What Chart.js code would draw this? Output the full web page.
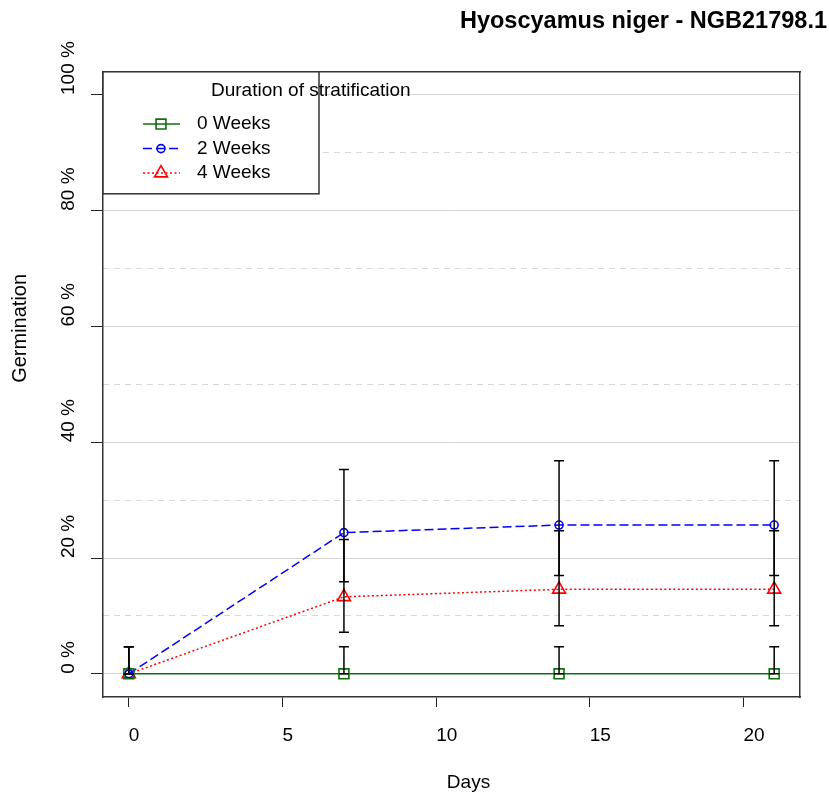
<!DOCTYPE html>
<html>
<head>
<meta charset="utf-8">
<script src="https://cdn.jsdelivr.net/npm/chart.js@4.4.1/dist/chart.umd.min.js"></script>
<style>
  html, body { margin: 0; padding: 0; background: #fff; }
</style>
</head>
<body>
<canvas id="chart" width="829" height="793"></canvas>
<script>
// germination data
const days = [0, 7, 14, 21];
const seriesNames = ["0 Weeks", "2 Weeks", "4 Weeks"];
const week0 = [0, 0, 0, 0];
const week2 = [0, 24.4, 25.7, 25.7];
const week4 = [0, 13.3, 14.6, 14.6];
const week0Low = [0, 0, 0, 0];
const week0High = [4.7, 4.7, 4.7, 4.7];
const week2Low = [0, 15.9, 17.0, 17.0];
const week2High = [4.7, 35.3, 36.8, 36.8];
const week4Low = [0, 7.2, 8.3, 8.3];
const week4High = [4.7, 23.2, 24.7, 24.7];
const xTicks = [0, 5, 10, 15, 20];
const yTicks = [0, 20, 40, 60, 80, 100];
const yMinorTicks = [10, 30, 50, 70, 90];

const FONT = "'Liberation Sans', Arial, Helvetica, sans-serif";
const values = [week0, week2, week4];
const lows = [week0Low, week2Low, week4Low];
const highs = [week0High, week2High, week4High];
const styles = [
  { color: "#0d700d", dash: [], point: "rect", radius: 7 },
  { color: "#0000ff", dash: [9, 4], point: "circle", radius: 4 },
  { color: "#ff0000", dash: [2, 2.5], point: "triangle", radius: 7.5 }
];

const lineSets = values.map((v, k) => ({
  type: "line",
  label: seriesNames[k],
  data: days.map((d, i) => ({ x: d, y: v[i] })),
  xAxisID: "x", yAxisID: "y",
  borderColor: styles[k].color,
  borderWidth: 1.5,
  borderDash: styles[k].dash,
  tension: 0,
  pointStyle: styles[k].point,
  pointRadius: styles[k].radius,
  pointBorderColor: styles[k].color,
  pointBackgroundColor: "rgba(0,0,0,0)",
  pointBorderWidth: 1.6,
  order: 2
}));

// error bars: floating bars for the stems, "line" points for the caps
const barSets = values.map((v, k) => ({
  type: "bar",
  label: seriesNames[k] + " range",
  data: days.map((d, i) => ({ x: d, y: [lows[k][i], highs[k][i]] })),
  xAxisID: "x", yAxisID: "y",
  backgroundColor: "#000",
  borderWidth: 0,
  grouped: false,
  maxBarThickness: 1.5,
  order: 1
}));

const capSets = values.map((v, k) => ({
  type: "line",
  label: seriesNames[k] + " caps",
  data: days.flatMap((d, i) => [{ x: d, y: lows[k][i] }, { x: d, y: highs[k][i] }]),
  xAxisID: "x", yAxisID: "y",
  showLine: false,
  pointStyle: "line",
  pointRadius: 5,
  pointBorderColor: "#000",
  pointBorderWidth: 1.5,
  order: 0
}));

function drawMarker(ctx, style, x, y) {
  ctx.save();
  ctx.strokeStyle = style.color;
  ctx.lineWidth = 1.6;
  ctx.setLineDash([]);
  ctx.beginPath();
  if (style.point === "rect") {
    const s = style.radius * Math.SQRT1_2;
    ctx.rect(x - s, y - s, 2 * s, 2 * s);
  } else if (style.point === "circle") {
    ctx.arc(x, y, style.radius, 0, Math.PI * 2);
  } else {
    const r = style.radius;
    ctx.moveTo(x, y - r);
    ctx.lineTo(x + r * 0.866, y + r / 2);
    ctx.lineTo(x - r * 0.866, y + r / 2);
    ctx.closePath();
  }
  ctx.stroke();
  ctx.restore();
}

const boxLegend = {
  id: "boxLegend",
  afterDraw(chart) {
    const { ctx, chartArea: a } = chart;
    const x0 = a.left, y0 = a.top, w = 216, h = 122;
    ctx.save();
    ctx.fillStyle = "#fff";
    ctx.fillRect(x0, y0, w, h);
    ctx.strokeStyle = "#333";
    ctx.lineWidth = 1.5;
    ctx.strokeRect(x0, y0, w, h);
    ctx.font = "19px " + FONT;
    ctx.textBaseline = "middle";
    ctx.textAlign = "left";
    ctx.fillStyle = "#000";
    ctx.fillText("Duration of stratification", x0 + 108, y0 + 19);
    seriesNames.forEach((name, k) => {
      const y = y0 + 52.3 + k * 24.5;
      const st = styles[k];
      ctx.strokeStyle = st.color;
      ctx.lineWidth = 1.5;
      ctx.setLineDash(st.dash);
      ctx.beginPath();
      ctx.moveTo(x0 + 40, y);
      ctx.lineTo(x0 + 77, y);
      ctx.stroke();
      ctx.setLineDash([]);
      drawMarker(ctx, st, x0 + 58, y);
      ctx.fillStyle = "#000";
      ctx.fillText(name, x0 + 94, y);
    });
    ctx.restore();
  }
};

const axisTitles = {
  id: "axisTitles",
  afterDraw(chart) {
    const { ctx, chartArea: a } = chart;
    ctx.save();
    ctx.fillStyle = "#000";
    ctx.textAlign = "center";
    ctx.textBaseline = "middle";
    ctx.font = "19px " + FONT;
    ctx.fillText("Days", (a.left + a.right) / 2 + 17, a.bottom + 86);
    ctx.font = "20px " + FONT;
    ctx.translate(20, (a.top + a.bottom) / 2 - 56);
    ctx.rotate(-Math.PI / 2);
    ctx.fillText("Germination", 0, 0);
    ctx.restore();
  }
};

new Chart(document.getElementById("chart"), {
  type: "line",
  data: { datasets: [...lineSets, ...barSets, ...capSets] },
  options: {
    responsive: false,
    animation: false,
    events: [],
    layout: { padding: { left: 0, right: 2, top: 0, bottom: 0 } },
    plugins: {
      legend: { display: false },
      tooltip: { enabled: false },
      title: {
        display: true,
        text: "Hyoscyamus niger - NGB21798.1",
        align: "end",
        color: "#000",
        font: { family: FONT, size: 23.5, weight: "bold", lineHeight: 1.2 },
        padding: { top: 7, bottom: 0 }
      }
    },
    scales: {
      x: {
        type: "linear", position: "bottom", min: -0.84, max: 21.84, offset: false,
        afterBuildTicks: s => { s.ticks = xTicks.map(v => ({ value: v })); },
        afterFit: s => { s.height = 96; },
        grid: { offset: false, drawOnChartArea: false, drawTicks: true, tickLength: 10, tickColor: "#222", tickWidth: 1 },
        border: { display: true, color: "#333", width: 1.5 },
        ticks: { align: "start", autoSkip: false, padding: 17, color: "#000",
                 font: { family: FONT, size: 19 }, callback: v => String(v) }
      },
      x2: {
        type: "linear", position: "top", min: -0.84, max: 21.84, offset: false,
        afterFit: s => { s.height = 36.6; },
        grid: { display: false, drawTicks: false },
        border: { display: true, color: "#333", width: 1.5 },
        ticks: { display: false }
      },
      y: {
        type: "linear", position: "left", weight: 0, min: -4, max: 104,
        afterBuildTicks: s => { s.ticks = yTicks.map(v => ({ value: v })); },
        afterFit: s => { s.width = 34; },
        grid: { color: "#d4d4d4", lineWidth: 1, drawTicks: true, tickLength: 12, tickColor: "#222", tickWidth: 1 },
        border: { display: true, color: "#333", width: 1.5 },
        ticks: { mirror: true, padding: -34, crossAlign: "near", minRotation: 90, maxRotation: 90,
                 autoSkip: false, color: "#000",
                 font: { family: FONT, size: 19 }, callback: v => v + " %" }
      },
      yMinor: {
        type: "linear", position: "left", weight: 1, min: -4, max: 104,
        afterBuildTicks: s => { s.ticks = yMinorTicks.map(v => ({ value: v })); },
        afterFit: s => { s.width = 69; },
        grid: { color: "#d9d9d9", lineWidth: 1, drawTicks: false },
        border: { display: false, dash: [6, 5] },
        ticks: { display: false }
      },
      y2: {
        type: "linear", position: "right", min: -4, max: 104,
        afterFit: s => { s.width = 27; },
        grid: { display: false, drawTicks: false },
        border: { display: true, color: "#333", width: 1.5 },
        ticks: { display: false }
      }
    }
  },
  plugins: [axisTitles, boxLegend]
});
</script>
</body>
</html>
